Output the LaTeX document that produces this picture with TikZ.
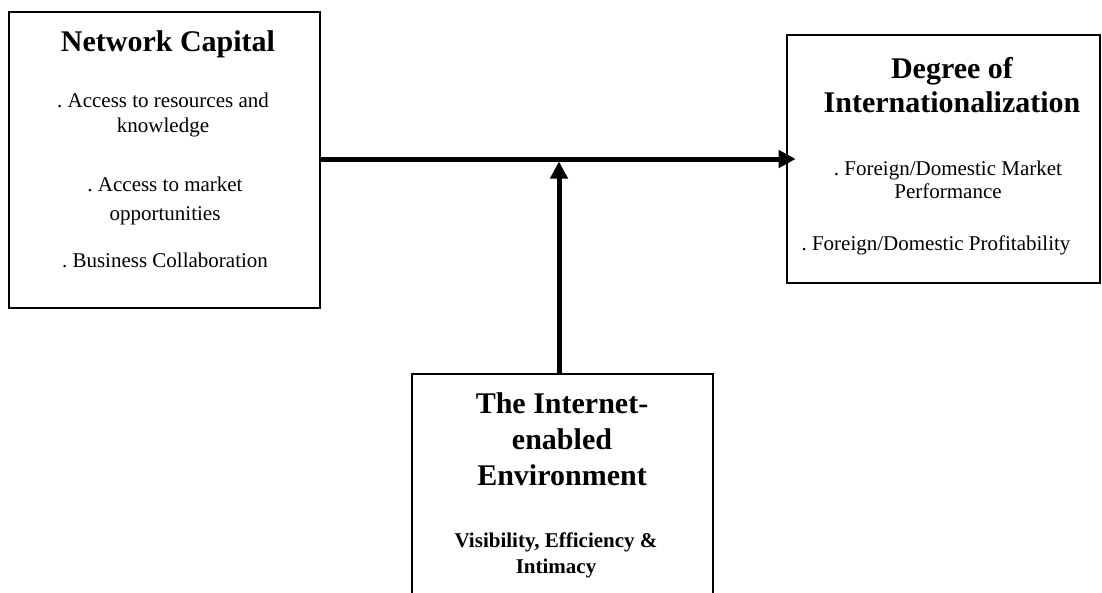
\documentclass[tikz,border=0pt]{standalone}
\usepackage{fontspec}
\setmainfont{Liberation Serif}
\frenchspacing
\usetikzlibrary{arrows.meta,positioning}
\tikzset{
  >=Triangle,
  every node/.append style={inner sep=0pt},
}
\tikzset{
  box/.style={draw, line width=2.6pt, inner sep=0pt},
  conn/.style={-{Triangle[length=17pt,width=17pt]}, line width=5pt},
  heading/.style={font=\fontsize{30}{36}\selectfont\bfseries, align=center, anchor=base},
  item/.style={font=\fontsize{21}{25}\selectfont, align=center, anchor=base},
  subhead/.style={font=\fontsize{21}{26}\selectfont\bfseries, align=center, anchor=base}
}
\begin{document}
\begin{tikzpicture}[x=1pt, y=1pt]

% --- Canvas ---
\useasboundingbox (0,0) rectangle (1102,-592);

% --- Boxes ---
\node[box, minimum width=311pt, minimum height=296pt] (netcap) at (164.5,-160) {};
\node[box, minimum width=313pt, minimum height=248pt] (degint) at (943.5,-159) {};
\node[box, minimum width=301pt, minimum height=236pt] (inetenv) at (562.5,-492) {};

% Network Capital (base = last line)
\node[heading] (ncTitle) at (168,-51) {Network Capital};
\node[item] (ncRes) at (163,-132) {. Access to resources and\\knowledge};
\node[item] (ncMkt) at (165,-220) {. Access to market\\[4pt]opportunities};
\node[item] (ncCollab) at (165,-267) {. Business Collaboration};

% Degree of Internationalization
\node[heading] (diTitle) at (952,-112) {Degree of\\[-2pt]Internationalization};
\node[item] (diMkt) at (948,-198) {. Foreign/Domestic Market\\[-2pt]Performance};
\node[item] (diProfit) at (936,-250) {. Foreign/Domestic Profitability};

% The Internet-enabled Environment
\node[heading] (ieTitle) at (562,-485) {The Internet-\\enabled\\Environment};
\node[subhead] (ieSub) at (556,-573) {Visibility, Efficiency \&\\Intimacy};

% --- Connectors ---
\coordinate (junction) at (559,-161.5);
\draw[conn] (netcap.east |- degint.west) -- ([xshift=10pt]degint.west);
\draw[conn] (inetenv.north -| junction) -- (junction);

\end{tikzpicture}
\end{document}
